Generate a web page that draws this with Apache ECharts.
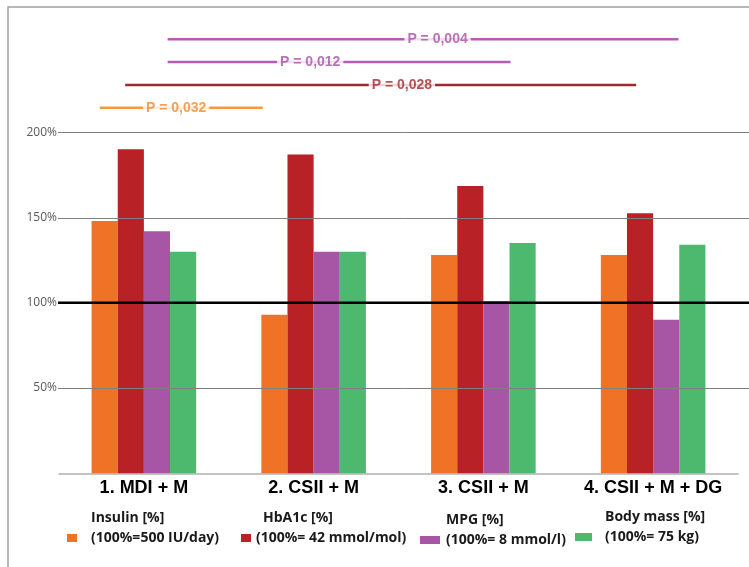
<!DOCTYPE html>
<html>
<head>
<meta charset="utf-8">
<script src="https://cdn.jsdelivr.net/npm/echarts@6/dist/echarts.min.js"></script>
<style>
  html, body { margin: 0; padding: 0; background: #fff; }
  #chart { width: 749px; height: 567px; }
</style>
</head>
<body>
<div id="chart"></div>
<script>
// Treatment groups along the x axis
const categories = ['1. MDI + M', '2. CSII + M', '3. CSII + M', '4. CSII + M + DG'];

// Percent of reference value for each parameter
const insulin  = [148, 93, 128, 128];
const hba1c    = [190, 187, 168.5, 152.5];
const mpg      = [142, 130, 101, 90];
const bodyMass = [130, 130, 135, 134];

// Y axis gridline ticks (percent)
const yTicks = [50, 100, 150, 200];

// Series names and their reference definitions
const seriesNames = ['Insulin [%]', 'HbA1c [%]', 'MPG [%]', 'Body mass [%]'];
const seriesNotes = ['(100%=500 IU/day)', '(100%= 42 mmol/mol)', '(100%= 8 mmol/l)', '(100%= 75 kg)'];

// Significance brackets: span in category units (0..4), label position, row (0 = lowest)
const pLabels = ['P = 0,004', 'P = 0,012', 'P = 0,028', 'P = 0,032'];
const pFrom   = [0.64, 0.64, 0.39, 0.24];
const pTo     = [3.65, 2.66, 3.40, 1.20];
const pMid    = [2.23, 1.48, 2.02, 0.69];
const pRow    = [3, 2, 1, 0];

const barColors = ['#f07226', '#b82126', '#a656a4', '#4cb96f'];
const pColors = ['#b35db3', '#b35db3', '#a3282d', '#f39a3c'];
const pTextColors = ['#a94fa8', '#a94fa8', '#a3282d', '#f08a30'];

const chart = echarts.init(document.getElementById('chart'), null, { renderer: 'canvas' });

const values = [insulin, hba1c, mpg, bodyMass];

const barSeries = values.map((v, i) => ({
  name: seriesNames[i],
  type: 'bar',
  xAxisIndex: 0,
  yAxisIndex: 0,
  data: v,
  barGap: '0%',
  barCategoryGap: '38.4%',
  itemStyle: { color: barColors[i] },
  emphasis: { disabled: true }
}));

const bracketSeries = [];
pLabels.forEach((txt, i) => {
  bracketSeries.push({
    type: 'line',
    xAxisIndex: 1,
    yAxisIndex: 1,
    silent: true,
    symbol: 'none',
    lineStyle: { color: pColors[i], width: 2.5 },
    data: [[pFrom[i], pRow[i]], [pTo[i], pRow[i]]],
    z: 3
  });
  bracketSeries.push({
    type: 'scatter',
    xAxisIndex: 1,
    yAxisIndex: 1,
    silent: true,
    symbolSize: 0,
    data: [[pMid[i], pRow[i]]],
    label: {
      show: true,
      position: 'inside',
      formatter: txt,
      color: pTextColors[i],
      fontFamily: 'Liberation Sans, Arial, sans-serif',
      fontWeight: 'bold',
      fontSize: 14,
      backgroundColor: '#fff',
      padding: [1, 3]
    },
    z: 4
  });
});

// Legend: one block per series, swatch aligned with the second line
const legendPos = [
  { left: 67, top: 511, w: 10, tPad: 9, sPad: 9 },
  { left: 241, top: 511, w: 10, tPad: 7, sPad: 0 },
  { left: 420, top: 513, w: 20, tPad: 1, sPad: 1 },
  { left: 575, top: 510, w: 17, tPad: 8, sPad: 8 }
];
const legendFont = 'Open Sans, sans-serif';
const legends = seriesNames.map((name, i) => ({
  data: [name],
  left: legendPos[i].left,
  top: legendPos[i].top,
  orient: 'horizontal',
  padding: 0,
  icon: 'rect',
  itemWidth: legendPos[i].w,
  itemHeight: 8,
  selectedMode: false,
  formatter: n => '{t|' + n + '}\n{s|' + seriesNotes[i] + '}\n{e| }',
  textStyle: {
    color: '#1a1a1a',
    fontFamily: legendFont,
    fontSize: 14,
    fontWeight: 'bold',
    rich: {
      t: { fontFamily: legendFont, fontSize: 14, fontWeight: 'bold', color: '#1a1a1a', lineHeight: 20, padding: [0, 0, 0, legendPos[i].tPad] },
      s: { fontFamily: legendFont, fontSize: 14, fontWeight: 'bold', color: '#1a1a1a', lineHeight: 20, padding: [0, 0, 0, legendPos[i].sPad] },
      e: { fontSize: 14, lineHeight: 20 }
    }
  }
}));

chart.setOption({
  animation: false,
  backgroundColor: '#fff',
  legend: legends,
  grid: [
    { left: 59, right: 11, top: 132.3, bottom: 93.7 },
    { left: 59, right: 11, top: 39.3, height: 68.4 }
  ],
  xAxis: [
    {
      type: 'category',
      gridIndex: 0,
      data: categories,
      axisTick: { show: false },
      axisLine: { lineStyle: { color: '#b0b0b0', width: 1.5 } },
      axisLabel: {
        interval: 0,
        hideOverlap: false,
        margin: 6,
        color: '#000',
        fontFamily: 'Liberation Sans, Arial, sans-serif',
        fontWeight: 'bold',
        fontSize: 18
      }
    },
    { type: 'value', gridIndex: 1, min: 0, max: 4, show: false }
  ],
  yAxis: [
    {
      type: 'value',
      gridIndex: 0,
      min: 0,
      max: 200,
      interval: 50,
      axisLine: { show: false },
      axisTick: { show: false },
      axisLabel: {
        margin: 2,
        color: '#595959',
        fontFamily: 'Open Sans, sans-serif',
        fontSize: 12,
        formatter: v => (v === 0 ? '' : v + '%')
      },
      splitLine: { show: false }
    },
    { type: 'value', gridIndex: 1, min: 0, max: 3, show: false }
  ],
  series: barSeries.concat(bracketSeries)
});

// Outer frame, and horizontal gridlines drawn over the bars from the
// y-axis scale, running out to the right edge of the page
const gridLeft = chart.convertToPixel({ xAxisIndex: 1 }, 0);
const extras = [{
  type: 'rect',
  silent: true,
  shape: { x: 8, y: 7, width: 800, height: 600 },
  style: { fill: 'none', stroke: '#a0a0a0', lineWidth: 1.5 },
  z: 0
}];
yTicks.forEach(t => {
  const main = t === 100;
  const yRaw = chart.convertToPixel({ yAxisIndex: 0 }, t);
  const y = main ? yRaw : Math.round(yRaw) + 0.5;
  extras.push({
    type: 'line',
    silent: true,
    shape: { x1: gridLeft - 1, y1: y, x2: 749, y2: y },
    style: { stroke: main ? '#000' : '#808080', lineWidth: main ? 2.5 : 1 },
    z: main ? 6 : 5
  });
});
chart.setOption({ graphic: extras });
</script>
</body>
</html>
